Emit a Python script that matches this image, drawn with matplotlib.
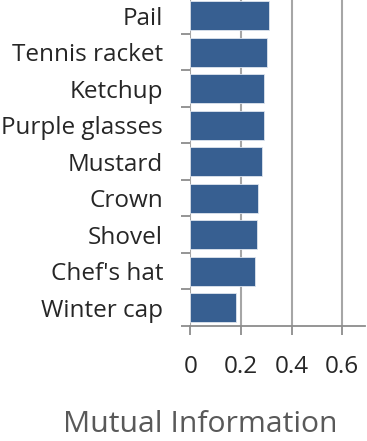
import matplotlib
matplotlib.use("Agg")
import matplotlib.pyplot as plt

categories = ["Pail", "Tennis racket", "Ketchup", "Purple glasses", "Mustard",
              "Crown", "Shovel", "Chef's hat", "Winter cap"]
values = [0.312, 0.301, 0.291, 0.291, 0.284, 0.268, 0.263, 0.257, 0.181]
xticks = [0, 0.2, 0.4, 0.6]
xtick_labels = ["0", "0.2", "0.4", "0.6"]
xlabel = "Mutual Information"

plt.rcParams['font.family'] = ['Open Sans', 'DejaVu Sans']

W, H = 367, 441
fig = plt.figure(figsize=(W / 100, H / 100), dpi=100)
left_px, right_px = 190.3, 365.0
bottom_px, top_px = 326.0, -2.6
ax = fig.add_axes([left_px / W, (H - bottom_px) / H,
                   (right_px - left_px) / W, (bottom_px - top_px) / H])

n = len(categories)
ypos = list(range(n))[::-1]
ax.barh(ypos, values, height=0.8, color="#375f91", edgecolor="#dde4ee", linewidth=0.6, zorder=3)
ax.set_ylim(-0.5, n - 0.5)
ax.set_xlim(0, 0.69)

ax.set_yticks([y - 0.5 for y in range(n + 1)], minor=False)
ax.set_yticklabels([])
ax.set_yticks(ypos, minor=True)
ax.set_yticklabels(categories, minor=True)
ax.tick_params(axis="y", which="minor", length=0, pad=19.5, labelsize=17.5, labelcolor="#262626")
ax.tick_params(axis="y", which="major", length=6.5, width=1.3, color="#8c8c8c")

ax.set_xticks(xticks)
ax.set_xticklabels(xtick_labels)
ax.tick_params(axis="x", length=6.5, width=1.3, color="#8c8c8c", labelsize=17.5,
               labelcolor="#262626", pad=14.5)

ax.grid(axis="x", color="#a6a6a6", linewidth=1.5, zorder=0)
for s in ["top", "right", "left"]:
    ax.spines[s].set_visible(False)
ax.spines["bottom"].set_color("#8c8c8c")
ax.spines["bottom"].set_linewidth(1.3)

fig.text(200 / W, 1 - 425 / H, xlabel, ha="center", va="center", fontsize=21.7, color="#595959")

fig.savefig("out.png", dpi=100)
